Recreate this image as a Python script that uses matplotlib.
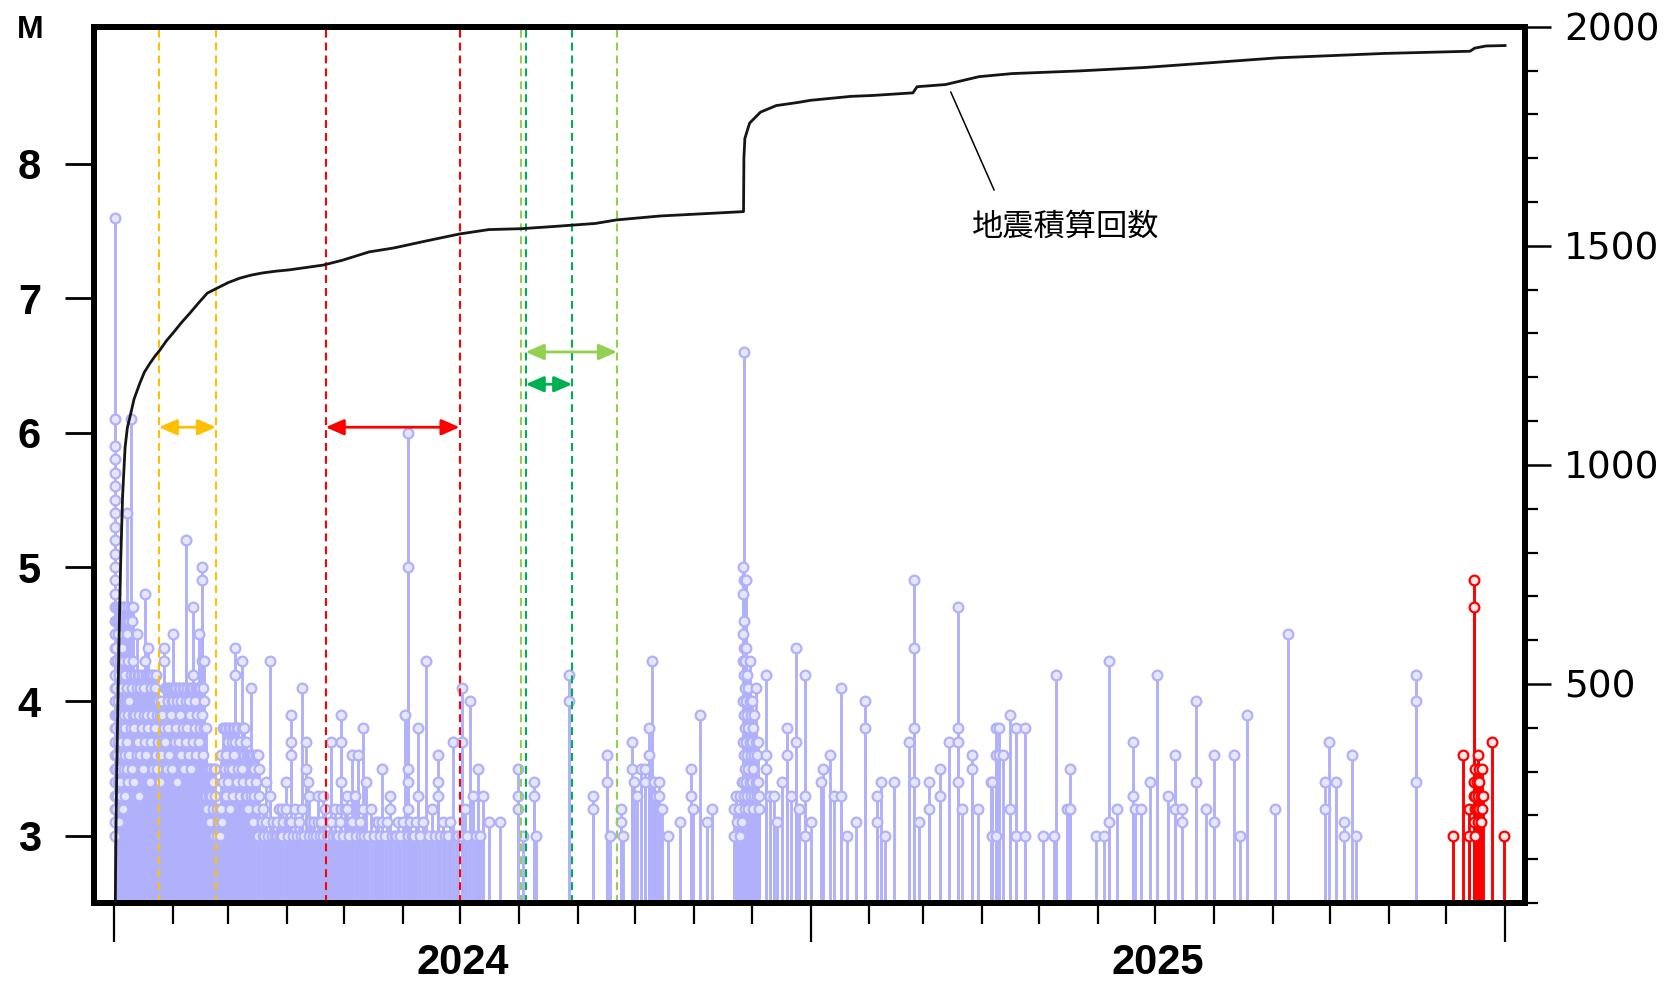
import numpy as np
import matplotlib
matplotlib.use("Agg")
import matplotlib.pyplot as plt
import matplotlib.dates as mdates
from matplotlib.ticker import FixedLocator, MultipleLocator, NullFormatter

# ---------------------------------------------------------------------------
# Events: (days since 2024-01-01 00:00, [magnitudes of events at that time])
# ---------------------------------------------------------------------------
jan1_events = [
    (0.7, [7.6, 6.1, 5.9, 5.8, 5.7, 5.6, 5.5, 5.4, 5.3, 5.2, 5.1, 5.0, 4.9, 4.8,
           4.7, 4.6, 4.5, 4.4, 4.3, 4.2, 4.1, 4.0, 3.9, 3.8, 3.7, 3.6, 3.5, 3.4,
           3.3, 3.2, 3.1, 3.0]),
]

jan_feb_events = [
    (1.0, [4.7, 4.4, 4.1, 3.8, 3.5, 3.2]), (1.5, [4.6, 4.3, 3.9, 3.6, 3.3]),
    (2.0, [4.7, 4.5, 4.0, 3.7, 3.4]), (2.5, [4.6, 4.2, 3.9, 3.5, 3.1]),
    (3.0, [4.7, 4.3, 3.8, 3.4]), (3.5, [4.6, 4.1, 3.7, 3.3]),
    (4.0, [4.7, 4.4, 4.0, 3.6]), (4.5, [4.6, 4.2, 3.8, 3.2]),
    (5.0, [4.7, 4.3, 3.9, 3.5]), (5.5, [4.6, 4.0, 3.6]),
    (6.0, [4.7, 4.2, 3.8, 3.3]), (6.6, [5.4, 4.5, 4.0, 3.5]),
    (7.0, [4.6, 4.1, 3.7]), (7.5, [4.7, 4.3, 3.9, 3.4]),
    (8.0, [4.6, 4.0, 3.6]), (8.7, [6.1, 4.7, 4.2, 3.8]),
    (9.2, [4.6, 4.1, 3.5]), (9.7, [4.7, 4.3, 3.9]),
    (10.3, [4.2, 3.8, 3.4]), (11.0, [4.2, 3.9]), (11.9, [4.5, 4.1, 3.6]),
    (12.5, [4.2, 3.7]), (13.1, [4.2, 3.9, 3.3]), (13.8, [4.1, 3.6]),
    (14.5, [4.2, 3.8]), (15.2, [4.2, 3.5]), (15.8, [4.1, 3.9]),
    (16.3, [4.8, 4.3, 3.7]), (17.0, [4.2, 3.6]), (17.5, [4.2, 3.9]),
    (18.0, [4.4, 4.2, 3.8]), (18.7, [4.2, 3.4]), (19.3, [4.1, 3.7]),
    (20.0, [4.2, 3.9]), (20.6, [4.2, 3.5]), (21.3, [4.1, 3.8]),
    (21.9, [4.2, 3.6]), (22.6, [3.9, 3.5]), (23.3, [4.0, 3.7]),
    (24.0, [3.9, 3.4]), (24.7, [4.0, 3.6]), (25.4, [3.9, 3.7]),
    (26.2, [4.4, 4.3, 3.8]), (27.0, [4.1, 3.7]), (27.7, [4.1, 3.5]),
    (28.4, [4.0, 3.8]), (29.1, [4.1, 3.6]), (29.8, [4.1, 3.9]),
    (30.5, [4.0, 3.5]), (31.1, [4.5, 4.1, 4.0]), (31.8, [4.1, 3.7]),
    (32.5, [4.1, 3.8]), (33.2, [4.0, 3.4]), (33.9, [4.1, 3.7]),
    (34.6, [4.1, 3.9]), (35.3, [4.0, 3.6]), (36.0, [4.1, 3.8]),
    (36.7, [4.1, 3.5]), (37.8, [5.2, 4.0, 3.7]), (38.5, [4.1, 3.8]),
    (39.2, [4.0, 3.6]), (39.9, [4.1, 3.9]), (40.6, [4.1, 3.5]),
    (41.6, [4.7, 4.2, 4.1, 3.7]), (42.3, [4.0, 3.8]), (43.0, [4.1, 3.6]),
    (43.7, [4.1, 3.9]), (44.6, [4.5, 4.1, 3.7]), (45.3, [4.1, 3.8]),
    (46.0, [5.0, 4.9, 4.3, 3.9]), (46.6, [4.1, 3.6]), (47.2, [4.3, 4.0, 3.8]),
    (48.3, [3.8, 3.5, 3.3]), (49.0, [3.5, 3.2]), (49.7, [3.5, 3.3]),
    (50.4, [3.5, 3.1]), (51.1, [3.5, 3.3]), (51.8, [3.4, 3.2]),
    (52.5, [3.5, 3.0]), (53.2, [3.5, 3.3]), (54.0, [3.2, 3.0]),
    (54.8, [3.1]), (55.5, [3.2, 3.0]), (56.0, [3.6, 3.2]), (56.8, [3.1]),
    (57.5, [3.8, 3.4]), (58.2, [3.8, 3.5]), (59.0, [3.8, 3.6, 3.3]),
    (59.7, [3.7, 3.4]),
]

spring_2024_events = [
    (60.4, [3.8, 3.5]), (61.1, [3.8, 3.2]), (61.8, [3.7, 3.5]),
    (62.5, [3.8, 3.3]), (63.2, [3.8, 3.6]), (63.8, [4.4, 4.2, 3.7]),
    (64.6, [3.8, 3.4]), (65.3, [3.8, 3.5]), (66.0, [3.7, 3.3]),
    (67.0, [4.3, 3.8, 3.5]), (67.7, [3.8, 3.4]), (68.4, [3.8, 3.6]),
    (69.1, [3.7, 3.3]), (69.8, [3.6, 3.3]), (70.5, [3.6, 3.2]),
    (71.2, [3.6, 3.4]), (72.2, [4.1, 3.6, 3.3]), (73.0, [3.6, 3.1]),
    (73.7, [3.5, 3.3]), (74.4, [3.6, 3.4]), (74.9, [3.6, 3.2]),
    (75.6, [3.6, 3.0]), (76.3, [3.5, 3.3]), (77.5, [3.1]), (78.3, [3.2, 3.0]),
    (79.0, [3.0]), (80.0, [3.4, 3.1]), (81.0, [3.0]), (81.8, [4.3, 3.3]),
    (82.8, [3.0]), (83.5, [3.1]), (84.5, [3.0]), (85.5, [3.1, 3.0]),
    (86.5, [3.2]), (87.2, [3.0]), (88.0, [3.2, 3.0]), (89.0, [3.1]),
    (90.4, [3.4, 3.2]), (91.5, [3.0]), (92.2, [3.1]),
    (93.2, [3.9, 3.7, 3.6, 3.1]), (94.2, [3.0]), (95.0, [3.2]), (96.0, [3.0]),
    (97.0, [3.1]), (98.0, [3.0]), (99.0, [4.1, 3.2]), (100.0, [3.0]),
    (101.0, [3.7, 3.5]), (101.8, [3.4]), (102.6, [3.3, 3.0]), (103.5, [3.1]),
    (104.5, [3.0]), (105.3, [3.1]), (106.0, [3.0]), (107.0, [3.3, 3.1]),
    (108.0, [3.0]), (109.0, [3.1]), (110.0, [3.3, 3.0]), (111.0, [3.2]),
    (111.8, [3.0]), (112.5, [3.0]), (113.3, [3.1]), (114.0, [3.7, 3.1]),
    (115.0, [3.0]), (116.0, [3.2]), (116.8, [3.0]), (117.5, [3.0]),
    (118.5, [3.1]), (119.5, [3.9, 3.7, 3.4, 3.2]), (120.5, [3.0]),
    (121.5, [3.2]), (122.4, [3.3, 3.2]), (123.5, [3.0]), (124.2, [3.1]),
    (125.0, [3.6, 3.1]), (126.4, [3.3]), (127.2, [3.0]), (128.2, [3.6]),
    (129.2, [3.1]), (130.0, [3.0]), (130.8, [3.8, 3.2]), (131.6, [3.0]),
    (132.5, [3.4]), (133.5, [3.0]),
]

summer_autumn_2024_events = [
    (135.2, [3.2]), (136.5, [3.0]), (137.6, [3.1]), (138.7, [3.1]),
    (139.6, [3.0]), (141.0, [3.5, 3.1]), (142.5, [3.0]), (143.6, [3.1]),
    (144.8, [3.3, 3.2]), (146.0, [3.0]), (147.5, [3.0]), (148.4, [3.0]),
    (149.2, [3.1]), (150.5, [3.0]), (151.6, [3.1]), (152.7, [3.9]),
    (154.4, [6.0, 5.0, 3.5, 3.4, 3.2, 3.0]), (155.5, [3.1]), (156.5, [3.0]),
    (157.5, [3.0]), (158.6, [3.1]), (159.7, [3.8, 3.3]), (161.0, [3.0]),
    (162.4, [3.1]), (163.7, [4.3]), (165.5, [3.0]), (167.0, [3.2]),
    (168.5, [3.0]), (170.0, [3.6, 3.4, 3.3]), (171.5, [3.0]), (172.8, [3.1]),
    (174.0, [3.0]), (175.5, [3.0]), (176.8, [3.1]), (178.0, [3.7]),
    (179.5, [3.0]), (181.0, [3.0]), (182.8, [4.1, 3.7, 3.0]), (184.2, [3.2]),
    (185.5, [3.0]), (186.8, [4.0]), (188.5, [3.3]), (190.0, [3.0]),
    (191.0, [3.5]), (192.5, [3.0]), (193.7, [3.3]), (197.3, [3.1]),
    (203.0, [3.1]), (212.5, [3.5, 3.3, 3.2]), (214.8, [3.0]),
    (220.5, [3.4, 3.3]), (222.0, [3.0]), (239.2, [4.2, 4.0]),
    (251.5, [3.3, 3.2]), (259.3, [3.6, 3.4]), (260.5, [3.0]),
    (266.4, [3.2, 3.1]), (267.5, [3.0]), (272.0, [3.7, 3.5]), (273.5, [3.4]),
    (275.0, [3.3]), (277.0, [3.5]), (279.0, [3.5, 3.4]), (281.0, [3.8, 3.6]),
    (282.6, [4.3]), (283.8, [3.4, 3.3]), (285.0, [3.3]), (286.5, [3.4, 3.3]),
    (287.8, [3.2]), (290.9, [3.0]), (297.5, [3.1]), (303.4, [3.5, 3.3]),
    (304.5, [3.2]), (307.8, [3.9]), (311.8, [3.1]), (314.1, [3.2]),
]

winter_2024_events = [
    (325.8, [3.2, 3.0]), (326.6, [3.3]), (327.4, [3.1]), (328.2, [3.2]),
    (329.0, [3.3, 3.0]), (329.8, [3.4, 3.1]),
    (330.5, [5.0, 4.8, 4.5, 4.3, 4.0, 3.7, 3.4]),
    (330.9, [6.6, 4.9, 4.6, 4.4, 4.2, 3.9, 3.6, 3.3]),
    (331.5, [4.3, 4.1, 3.8, 3.5, 3.2]), (332.1, [4.9, 4.4, 4.0, 3.7, 3.4]),
    (332.7, [4.2, 3.9, 3.6, 3.3]), (333.3, [4.1, 3.8, 3.5, 3.2]),
    (334.0, [4.3, 4.0, 3.7, 3.4]), (334.6, [3.9, 3.6, 3.3]),
    (335.2, [4.0, 3.7, 3.4]), (335.9, [3.8, 3.5, 3.2]),
    (336.5, [3.9, 3.6, 3.3]), (337.1, [4.1, 3.7, 3.4]), (337.7, [3.6, 3.3]),
    (338.3, [3.7, 3.4]), (339.0, [3.3, 3.2]), (342.8, [4.2, 3.6, 3.5]),
    (344.5, [3.3]), (346.8, [3.3]), (348.5, [3.1]), (350.8, [3.4]),
    (353.8, [3.8, 3.6]), (356.0, [3.3]), (358.2, [4.4, 3.7]), (360.0, [3.2]),
    (362.9, [4.2, 3.3, 3.0]),
]

year_2025_events = [
    (366.5, [3.1]), (371.3, [3.4]), (372.5, [3.5]), (376.2, [3.6]),
    (378.5, [3.3]), (381.8, [4.1, 3.3]), (385.0, [3.0]), (389.7, [3.1]),
    (394.5, [4.0, 3.8]), (401.0, [3.3, 3.1]), (403.3, [3.4]), (405.0, [3.0]),
    (409.7, [3.4]), (417.6, [3.7]), (420.2, [4.9, 4.4, 3.8, 3.4]),
    (423.0, [3.1]), (428.1, [3.4, 3.2]), (433.9, [3.5, 3.3]), (438.6, [3.7]),
    (443.3, [4.7, 3.8, 3.7, 3.4]), (445.5, [3.2]), (450.8, [3.6, 3.5]),
    (454.0, [3.2]), (460.8, [3.4]), (461.6, [3.4, 3.0]),
    (463.6, [3.8, 3.6, 3.0]), (465.2, [3.8, 3.6]), (467.0, [3.6]),
    (471.0, [3.9, 3.2]), (474.0, [3.8, 3.0]), (478.8, [3.8, 3.0]),
    (488.3, [3.0]), (493.7, [3.0]), (495.0, [4.2]), (500.6, [3.2]),
    (502.4, [3.5, 3.2]), (516.0, [3.0]), (520.4, [3.0]), (523.0, [4.3, 3.1]),
    (526.9, [3.2]), (535.3, [3.7, 3.3]), (536.5, [3.2]), (539.7, [3.2]),
    (544.6, [3.4]), (548.1, [4.2]), (553.7, [3.3]), (557.8, [3.6, 3.2]),
    (561.3, [3.2, 3.1]), (568.7, [4.0, 3.4]), (574.0, [3.2]),
    (578.0, [3.6, 3.1]), (588.8, [3.6]), (591.8, [3.0]), (595.3, [3.9]),
    (609.9, [3.2]), (616.9, [4.5]), (636.2, [3.4, 3.2]), (638.5, [3.7]),
    (642.0, [3.4]), (646.2, [3.1, 3.0]), (650.8, [3.6]), (652.9, [3.0]),
    (684.1, [4.2, 4.0, 3.4]),
]

# most recent activity, highlighted in red
recent_events = [
    (703.4, [3.0]), (709.0, [3.6]), (712.2, [3.2, 3.0]),
    (714.6, [4.9, 4.7, 3.4, 3.3, 3.1]), (715.3, [3.5, 3.3, 3.2, 3.0]),
    (716.0, [3.4, 3.2]), (716.7, [3.6, 3.3, 3.1]), (717.4, [3.5, 3.4, 3.2]),
    (718.1, [3.3, 3.1]), (718.8, [3.5, 3.2]), (719.5, [3.3]),
    (724.3, [3.7]), (730.6, [3.0]),
]

# cumulative number of earthquakes
cum_days = [0.67, 0.9, 1.4, 2.6, 3.5, 4.5, 5.8, 7.0, 8.4, 10.5, 13.6, 16.0,
            18.9, 21.5, 24.1, 27.5, 31, 35.5, 40, 44.5, 49, 54, 60, 66, 72, 78,
            85, 92, 110, 120, 134, 147, 164, 181.6, 197, 214, 231, 253, 264,
            287, 309, 330.8, 331.0, 331.5, 334, 339.7, 348, 359.3, 366, 387.3,
            398.5, 419.8, 422, 437, 454.6, 472, 507, 542, 577, 611.7, 667.7,
            712.6, 715, 721, 731]
cum_count = [0, 120, 300, 600, 780, 930, 1040, 1085, 1110, 1150, 1187, 1212,
             1232, 1248, 1262, 1283, 1301, 1325, 1347, 1370, 1392, 1403, 1416,
             1426, 1433, 1438, 1442, 1445, 1456, 1467, 1486, 1495, 1511, 1527,
             1537, 1539, 1544, 1551, 1559, 1568, 1573, 1578, 1700, 1745, 1780,
             1805, 1820, 1827, 1832, 1841, 1843, 1849, 1863, 1868, 1886, 1893,
             1899, 1907, 1918, 1929, 1939, 1944, 1951, 1956, 1957]

# observation periods (start day, end day) and arrow level (M)
period_lines = [(23.5, 53.6), (111.2, 181.6), (214.0, 264.3), (216.3, 240.8)]
period_arrows = [(23.5, 53.6), (111.2, 181.6), (216.3, 264.3), (216.3, 240.8)]
period_levels = [6.04, 6.04, 6.6, 6.36]
period_colors = ["#ffc000", "#ff0000", "#92d050", "#00b050"]

year_labels = ["2024", "2025"]
year_mid_days = [183.0, 548.5]
mag_ticks = [3, 4, 5, 6, 7, 8]
count_ticks = [500, 1000, 1500, 2000]

BASE = np.datetime64("2024-01-01T00:00:00")


def to_dt(days):
    secs = np.round(np.asarray(days, dtype=float) * 86400).astype(np.int64)
    return BASE + secs.astype("timedelta64[s]")


def to_num(days):
    return mdates.date2num(to_dt(days))


def expand(groups):
    d, m = [], []
    for day, mags in groups:
        for v in mags:
            d.append(day)
            m.append(v)
    return np.array(d), np.array(m)


LAV = "#b1b1fb"
RED = "#ff0000"

fig = plt.figure(figsize=(16.7, 9.85), dpi=100)
ax = fig.add_axes([0.0561, 0.0832, 0.8571, 0.8897])

past = (jan1_events + jan_feb_events + spring_2024_events +
        summer_autumn_2024_events + winter_2024_events + year_2025_events)
for groups, col, face in ((past, LAV, "#e6e6ff"), (recent_events, RED, "#ffe8e8")):
    d, m = expand(groups)
    t = to_dt(d)
    ax.vlines(t, 2.5, m, colors=col, lw=2.1, zorder=2)
    ax.plot(t, m, "o", ls="none", ms=7.0, mfc=face, mec=col, mew=1.6, zorder=3)

# observation periods
for (s, e), c in zip(period_lines, period_colors):
    for dd in (s, e):
        ax.axvline(to_dt(dd), color=c, lw=1.5, ls=(0, (3.8, 2.4)), zorder=4)
for (s, e), lvl, c in zip(period_arrows, period_levels, period_colors):
    ax.annotate("", xy=(to_num(e), lvl), xytext=(to_num(s), lvl),
                arrowprops=dict(arrowstyle="<|-|>,head_length=0.55,head_width=0.24",
                                color=c, lw=2.0, mutation_scale=20,
                                shrinkA=0, shrinkB=0), zorder=5)

ax.set_xlim(to_dt(-10.7), to_dt(741.5))
ax.set_ylim(2.5, 9.02)

# axes styling
for sp in ax.spines.values():
    sp.set_linewidth(4.3)
    sp.set_capstyle("projecting")

ax.xaxis.set_major_locator(mdates.YearLocator())
ax.xaxis.set_minor_locator(mdates.MonthLocator())
ax.xaxis.set_major_formatter(NullFormatter())
ax.xaxis.set_minor_formatter(NullFormatter())
ax.tick_params(axis="x", which="major", direction="out", length=28, width=1.6)
ax.tick_params(axis="x", which="minor", direction="out", length=15, width=1.6)

ax.set_yticks(mag_ticks)
ax.set_yticklabels([str(v) for v in mag_ticks], fontsize=30, fontweight="bold",
                   fontfamily="Liberation Sans")
ax.tick_params(axis="y", which="major", direction="out", length=21, width=2.0, pad=17)

for lab, mid in zip(year_labels, year_mid_days):
    ax.text(to_num(mid), -0.068, lab, transform=ax.get_xaxis_transform(),
            ha="center", va="center", fontsize=30, fontweight="bold",
            fontfamily="Liberation Sans")

fig.text(30 / 1670, 1 - 30 / 985, "M", ha="center", va="center", fontsize=23,
         fontweight="bold", fontfamily="Liberation Sans")

# cumulative count on the right-hand axis
ax2 = ax.twinx()
ax2.plot(to_dt(cum_days), cum_count, color="#151515", lw=2.0, zorder=6)
ax2.set_ylim(0, 2000)
ax2.yaxis.set_major_locator(FixedLocator(count_ticks))
ax2.yaxis.set_minor_locator(MultipleLocator(100))
ax2.set_yticklabels([str(v) for v in count_ticks], fontsize=27,
                    fontfamily="DejaVu Sans")
ax2.tick_params(axis="y", which="major", direction="out", length=19, width=1.8, pad=9)
ax2.tick_params(axis="y", which="minor", direction="out", length=9, width=1.6)
for sp in ax2.spines.values():
    sp.set_linewidth(4.3)
    sp.set_capstyle("projecting")

ax2.annotate("", xy=(to_num(439.7), 1851), xytext=(to_num(462.5), 1627),
             arrowprops=dict(arrowstyle="-", lw=1.1, color="black",
                             shrinkA=0, shrinkB=0))
ax2.text(to_num(499.9), 1543, "地震積算回数", ha="center", va="center",
         fontsize=22.5, fontfamily=["Noto Sans CJK JP", "DejaVu Sans"])

fig.savefig("out.png", dpi=100, facecolor="white")
